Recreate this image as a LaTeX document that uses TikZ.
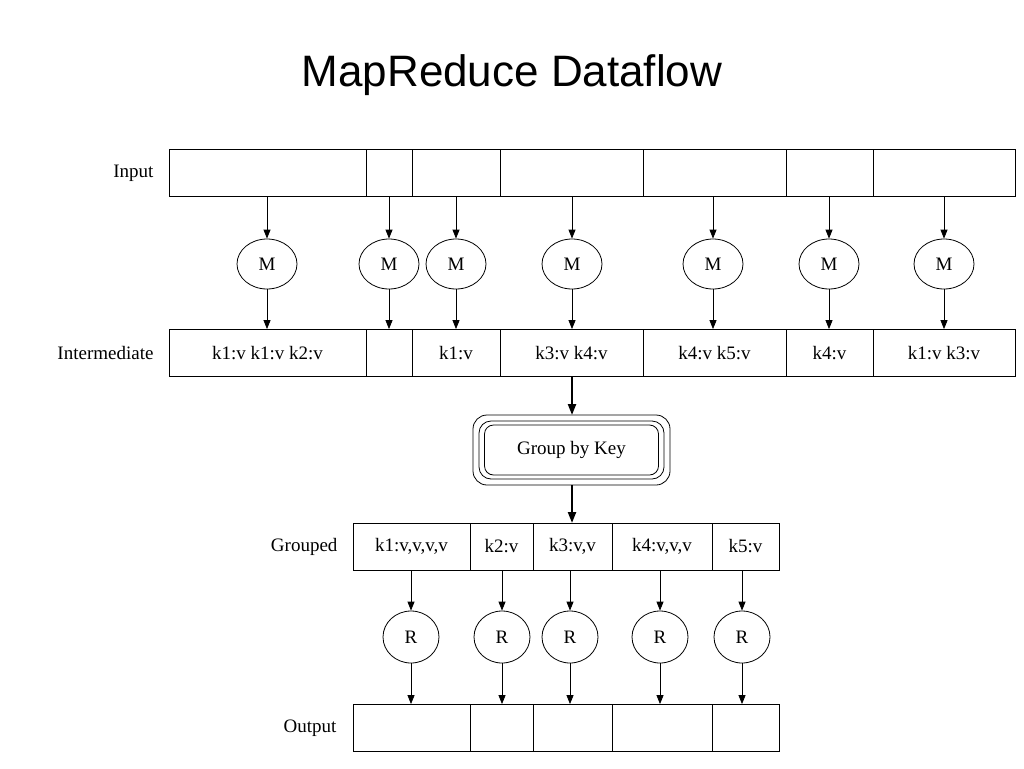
\documentclass[tikz,border=0pt]{standalone}
\usepackage{fontspec}
\setmainfont{Liberation Serif}
\newfontfamily\titlefont{Liberation Sans}
\usetikzlibrary{arrows.meta,shapes.geometric}
\begin{document}
\begin{tikzpicture}[x=1pt,y=-1pt,
  cell/.style={draw,line width=0.8pt,minimum height=47pt,inner sep=0pt,font=\fontsize{19}{22}\selectfont},
  op/.style={draw,line width=0.8pt,ellipse,minimum width=60pt,minimum height=50pt,inner sep=0pt,font=\fontsize{19}{22}\selectfont},
  lab/.style={anchor=east,font=\fontsize{19}{22}\selectfont},
  arr/.style={-{Triangle[length=9pt,width=7pt]},line width=0.8pt},
  thick arr/.style={-{Triangle[length=11pt,width=8pt]},line width=2.2pt}]
\useasboundingbox (0,0) rectangle (1024,768);
\node[font=\titlefont\fontsize{44}{50}\selectfont] (title) at (512,75) {MapReduce Dataflow};
% rows
\def\mkrow#1#2#3{%
  \foreach \a/\b/\t [count=\i] in {#3}{
    \pgfmathsetmacro\w{\b-\a}
    \node[cell,minimum width=\w pt] (#1\i) at ({(\a+\b)/2},#2) {\t};
  }}
\mkrow{in}{172.5}{169/366/{},366/412/{},412/500/{},500/643/{},643/786/{},786/873/{},873/1015/{}}
\mkrow{im}{353}{169/366/{k1:v k1:v k2:v},366/412/{},412/500/{k1:v},500/643/{k3:v k4:v},643/786/{k4:v k5:v},786/873/{k4:v},873/1015/{k1:v k3:v}}
\mkrow{gr}{546.5}{353/470/{k1:v,v,v,v},470/533/{k2:v},533/612/{k3:v,v},612/712/{k4:v,v,v},712/779/{k5:v}}
\mkrow{out}{728}{353/470/{},470/533/{},533/612/{},612/712/{},712/779/{}}
\node[lab] (linput) at (157,173) {Input};
\node[lab] (linter) at (157,353) {Intermediate};
\node[lab] (lgroup) at (341,547) {Grouped};
\node[lab] (loutput) at (340,728) {Output};
% map
\foreach \x [count=\i] in {267,389,456,572,713,829,944}{
  \node[op] (m\i) at (\x,264) {M};
  \draw[arr] (m\i |- in1.south) -- (m\i.north);
  \draw[arr] (m\i.south) -- (m\i |- im1.north);
}
% group
\node[draw,line width=0.8pt,rounded corners=9pt,minimum width=174pt,minimum height=50pt,font=\fontsize{19}{22}\selectfont] (g) at (571.5,450) {Group by Key};
\draw[line width=0.8pt,rounded corners=12pt] (479,421) rectangle (664,479);
\draw[line width=0.8pt,rounded corners=14pt] (473,415) rectangle (670,485);
\coordinate (gt) at (572,415);
\coordinate (gb) at (572,485);
\draw[thick arr] (572,376.5) -- (gt);
\draw[thick arr] (gb) -- (572,523);
% reduce
\foreach \x [count=\i] in {411,502,570,660,742}{
  \node[op,minimum width=56pt,minimum height=52pt] (r\i) at (\x,637) {R};
  \draw[arr] (r\i |- gr1.south) -- (r\i.north);
  \draw[arr] (r\i.south) -- (r\i |- out1.north);
}
\end{tikzpicture}
\end{document}
